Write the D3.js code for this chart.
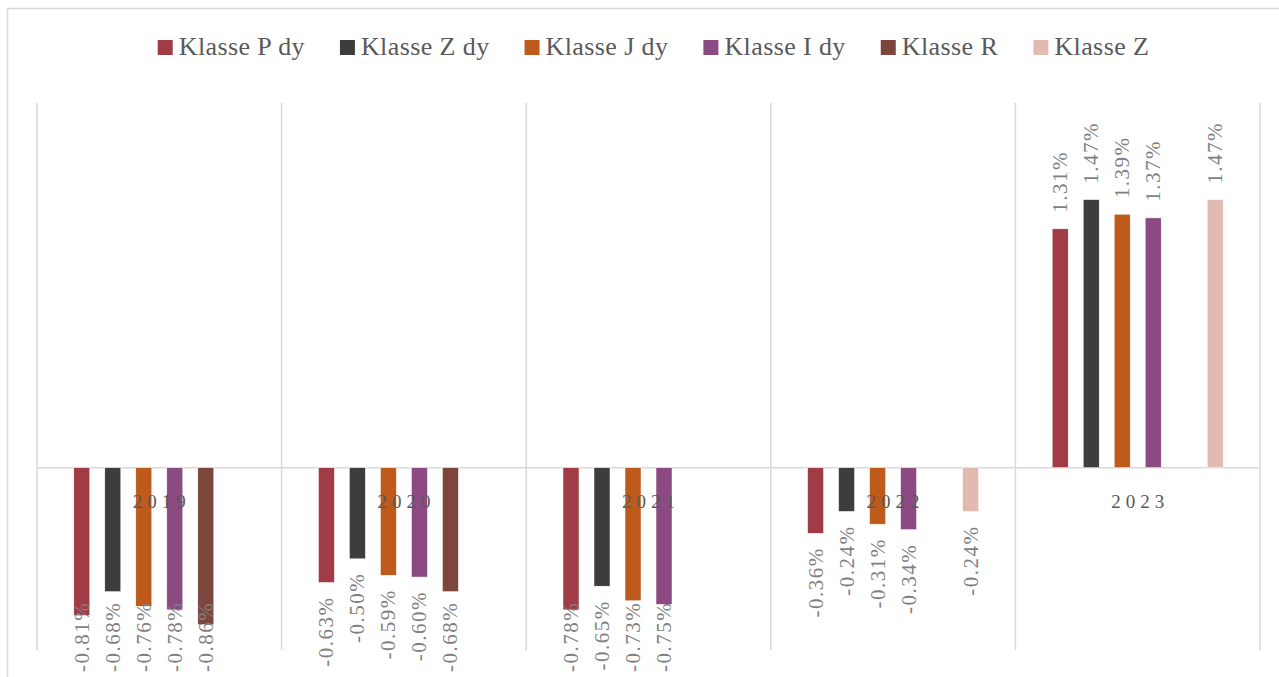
<!DOCTYPE html>
<html>
<head>
<meta charset="utf-8">
<script src="https://cdn.jsdelivr.net/npm/d3@7"></script>
<style>
  html, body { margin: 0; padding: 0; background: #fff; }
  svg { display: block; }
  text { font-family: "Liberation Serif", "DejaVu Serif", serif; }
</style>
</head>
<body>
<svg id="chart" width="1279" height="677"></svg>
<script>
const years = ["2019", "2020", "2021", "2022", "2023"];
const seriesNames = ["Klasse P dy", "Klasse Z dy", "Klasse J dy", "Klasse I dy", "Klasse R", "Klasse Z"];
const seriesColors = ["#A13B45", "#3D3D3D", "#BD5A1C", "#8C4A82", "#7D463D", "#E2BAB0"];
const klassePdy = [-0.81, -0.63, -0.78, -0.36, 1.31];
const klasseZdy = [-0.68, -0.50, -0.65, -0.24, 1.47];
const klasseJdy = [-0.76, -0.59, -0.73, -0.31, 1.39];
const klasseIdy = [-0.78, -0.60, -0.75, -0.34, 1.37];
const klasseR   = [-0.86, -0.68, null, null, null];
const klasseZ   = [null, null, null, -0.24, 1.47];
const allSeries = [klassePdy, klasseZdy, klasseJdy, klasseIdy, klasseR, klasseZ];
const yDomain = [-1, 2];

const svg = d3.select("#chart");
const W = 1279, H = 677;
const plot = { left: 37, right: 1260, top: 103, bottom: 650 };
const gridColor = "#D9D9D9";

// outer chart border
svg.append("rect").attr("x", 7.5).attr("y", 8.5).attr("width", W + 10).attr("height", H + 10)
  .attr("fill", "none").attr("stroke", gridColor).attr("stroke-width", 1.5);

const x = d3.scaleBand().domain(years).range([plot.left, plot.right]).paddingInner(0).paddingOuter(0);
const xs = d3.scaleBand().domain(seriesNames).range([0, x.bandwidth()])
  .paddingInner(15 / 31).paddingOuter(1.187);
const y = d3.scaleLinear().domain(yDomain).range([plot.bottom, plot.top]);

// vertical category gridlines
const bounds = years.map(d => x(d)).concat([x(years[years.length - 1]) + x.bandwidth()]);
svg.append("g").selectAll("line").data(bounds).join("line")
  .attr("x1", d => d).attr("x2", d => d)
  .attr("y1", plot.top).attr("y2", plot.bottom)
  .attr("stroke", gridColor).attr("stroke-width", 1.5);

// zero line
svg.append("line").attr("x1", plot.left).attr("x2", plot.right)
  .attr("y1", y(0)).attr("y2", y(0)).attr("stroke", gridColor).attr("stroke-width", 1.5);

// data
const data = [];
allSeries.forEach((vals, si) => {
  vals.forEach((v, yi) => {
    if (v !== null) data.push({ year: years[yi], series: seriesNames[si], color: seriesColors[si], value: v });
  });
});

const gBars = svg.append("g");
gBars.selectAll("rect").data(data).join("rect")
  .attr("x", d => x(d.year) + xs(d.series))
  .attr("width", xs.bandwidth())
  .attr("y", d => Math.min(y(d.value), y(0)))
  .attr("height", d => Math.abs(y(d.value) - y(0)))
  .attr("fill", d => d.color)
  .attr("stroke", "#fff").attr("stroke-width", 0.5);

// category axis labels
const xAxis = d3.axisBottom(x).tickSize(0).tickPadding(0);
const gx = svg.append("g").attr("transform", `translate(0,${y(0)})`).call(xAxis);
gx.select(".domain").remove();
gx.selectAll("text")
  .attr("y", 40).attr("dy", 0)
  .attr("dx", 2.5)
  .style("font-family", '"Liberation Serif", serif')
  .style("font-size", "19px")
  .style("letter-spacing", "5px")
  .attr("fill", "#595959");

// data labels
const fmt = v => d3.format(".2f")(v).replace("\u2212", "-") + "%";
const gapL = 14, bottomLimit = 672;
const labels = svg.append("g").selectAll("text").data(data).join("text")
  .text(d => fmt(d.value))
  .style("font-size", "21px")
  .style("letter-spacing", "1.5px")
  .attr("fill", "#7F7F7F")
  .attr("dominant-baseline", "central");
labels.each(function (d) {
  const len = this.getComputedTextLength();
  const cx = x(d.year) + xs(d.series) + xs.bandwidth() / 2;
  const t = d3.select(this);
  if (d.value < 0) {
    let topY = y(d.value) + gapL;
    if (topY + len > bottomLimit) topY = bottomLimit - len;
    t.attr("text-anchor", "start")
      .attr("transform", `translate(${cx},${topY + len}) rotate(-90)`);
  } else {
    const botY = y(d.value) - gapL - 2;
    t.attr("text-anchor", "start")
      .attr("transform", `translate(${cx},${botY}) rotate(-90)`);
  }
});

// legend
const legend = svg.append("g");
const items = legend.selectAll("g").data(seriesNames).join("g");
items.append("rect").attr("width", 15).attr("height", 15).attr("y", -15)
  .attr("fill", (d, i) => seriesColors[i]);
items.append("text").text(d => d).attr("x", 21).attr("y", 0)
  .style("font-size", "26px").style("letter-spacing", "0.4px").attr("fill", "#595959");
let widths = [];
items.each(function () { widths.push(this.getBBox().width); });
const gap = 35;
const total = d3.sum(widths) + gap * (widths.length - 1);
let cur = (plot.left + plot.right) / 2 - total / 2 + 5;
items.each(function (d, i) {
  d3.select(this).attr("transform", `translate(${cur},55)`);
  cur += widths[i] + gap;
});
</script>
</body>
</html>
